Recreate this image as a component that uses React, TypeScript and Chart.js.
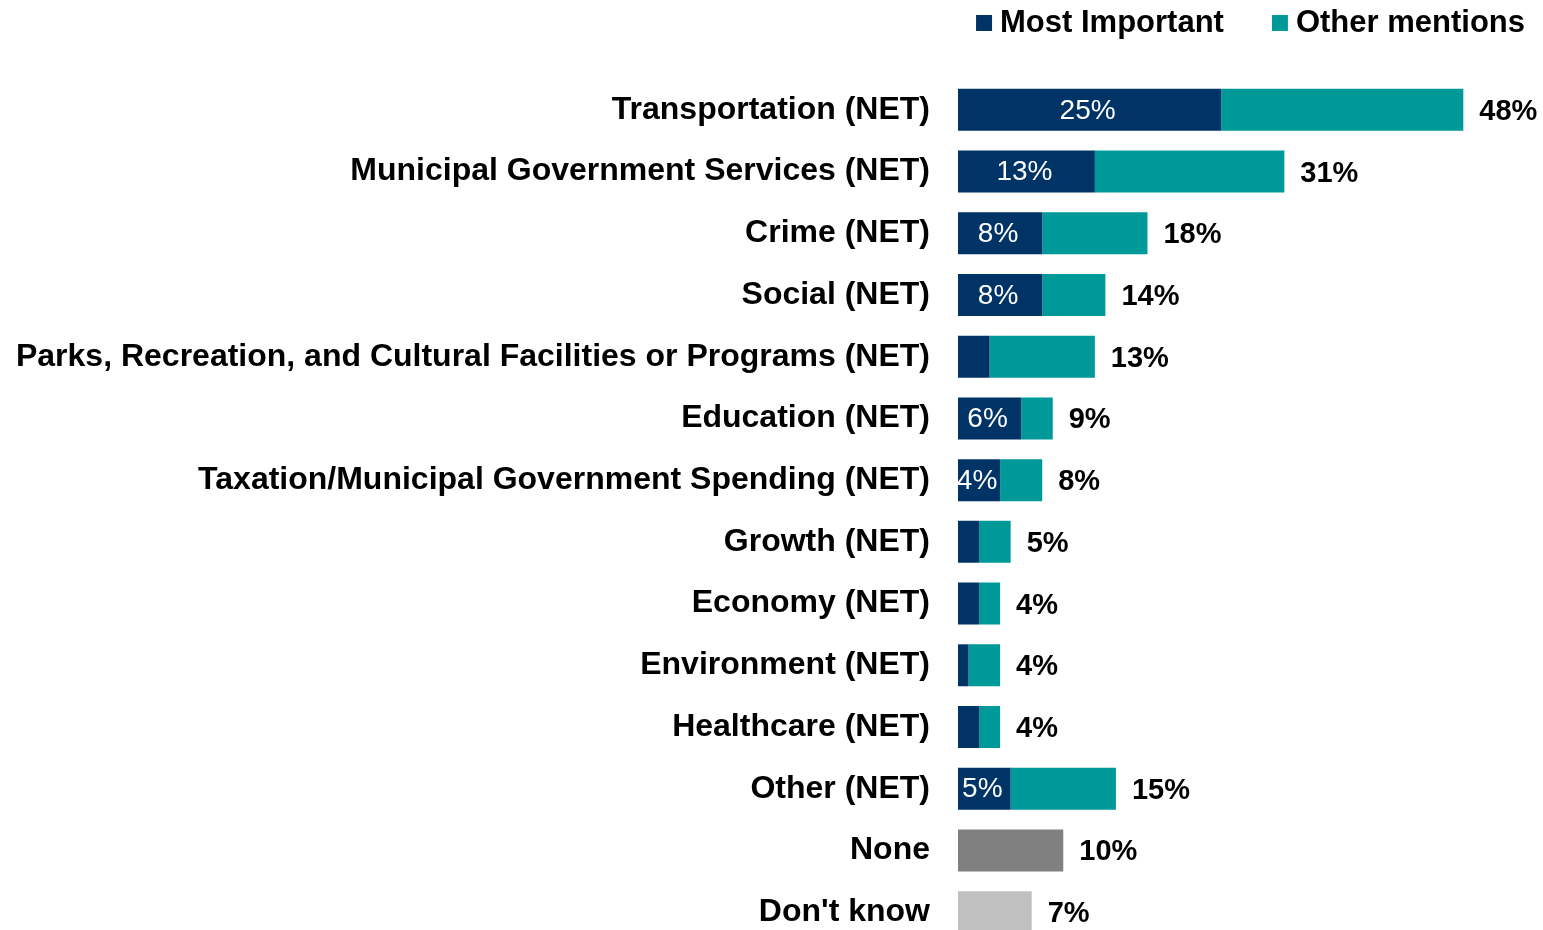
import React, { useEffect, useRef } from "react";
import { Chart, registerables } from "chart.js";

Chart.register(...registerables);

const categories = [
  "Transportation (NET)",
  "Municipal Government Services (NET)",
  "Crime (NET)",
  "Social (NET)",
  "Parks, Recreation, and Cultural Facilities or Programs (NET)",
  "Education (NET)",
  "Taxation/Municipal Government Spending (NET)",
  "Growth (NET)",
  "Economy (NET)",
  "Environment (NET)",
  "Healthcare (NET)",
  "Other (NET)",
  "None",
  "Don't know",
];

const mostImportant = [25, 13, 8, 8, 3, 6, 4, 2, 2, 1, 2, 5, 0, 0];
const otherMentions = [23, 18, 10, 6, 10, 3, 4, 3, 2, 3, 2, 10, 0, 0];
const noneDontKnow = [0, 0, 0, 0, 0, 0, 0, 0, 0, 0, 0, 0, 10, 7];
const totals = [48, 31, 18, 14, 13, 9, 8, 5, 4, 4, 4, 15, 10, 7];

const NAVY = "#003366";
const TEAL = "#009999";
const GRAY_DARK = "#808080";
const GRAY_LIGHT = "#C0C0C0";
const FONT = "'Liberation Sans', Arial, sans-serif";

export default function App() {
  const ref = useRef<HTMLCanvasElement | null>(null);

  useEffect(() => {
    if (!ref.current) return;

    const labelsPlugin = {
      id: "valueLabels",
      afterDatasetsDraw(chart: any) {
        const ctx = chart.ctx;
        const x = chart.scales.x;
        const y = chart.scales.y;
        ctx.save();
        ctx.textBaseline = "middle";
        ctx.fillStyle = "#FFFFFF";
        ctx.font = `28px ${FONT}`;
        ctx.textAlign = "center";
        mostImportant.forEach((v, i) => {
          if (v >= 4) {
            const cx = (x.getPixelForValue(0) + x.getPixelForValue(v)) / 2;
            ctx.fillText(`${v}%`, cx - 2, y.getPixelForValue(i) + 1);
          }
        });
        ctx.fillStyle = "#000000";
        ctx.font = `bold 29px ${FONT}`;
        ctx.textAlign = "left";
        totals.forEach((t, i) => {
          ctx.fillText(`${t}%`, x.getPixelForValue(t) + 16, y.getPixelForValue(i) + 2);
        });
        ctx.restore();
      },
      afterDraw(chart: any) {
        const ctx = chart.ctx;
        ctx.save();
        ctx.font = `bold 31px ${FONT}`;
        ctx.textBaseline = "middle";
        ctx.textAlign = "left";
        const items = [
          { text: chart.data.datasets[0].label, color: NAVY },
          { text: chart.data.datasets[1].label, color: TEAL },
        ];
        const box = 16;
        const gap = 8;
        const between = 48;
        let total = 0;
        items.forEach((it, idx) => {
          total += box + gap + ctx.measureText(it.text).width;
          if (idx < items.length - 1) total += between;
        });
        let cx = 1525 - total;
        const cy = 23;
        items.forEach((it) => {
          ctx.fillStyle = it.color;
          ctx.fillRect(cx, cy - box / 2, box, box);
          cx += box + gap;
          ctx.fillStyle = "#000000";
          ctx.fillText(it.text, cx, cy);
          cx += ctx.measureText(it.text).width + between;
        });
        ctx.restore();
      },
    };

    const chart = new Chart(ref.current, {
      type: "bar",
      data: {
        labels: categories,
        datasets: [
          {
            label: "Most Important",
            data: mostImportant,
            backgroundColor: NAVY,
            stack: "s",
          },
          {
            label: "Other mentions",
            data: otherMentions,
            backgroundColor: TEAL,
            stack: "s",
          },
          {
            label: "None / Don't know",
            data: noneDontKnow,
            backgroundColor: [
              GRAY_DARK, GRAY_DARK, GRAY_DARK, GRAY_DARK, GRAY_DARK, GRAY_DARK, GRAY_DARK,
              GRAY_DARK, GRAY_DARK, GRAY_DARK, GRAY_DARK, GRAY_DARK, GRAY_DARK, GRAY_LIGHT,
            ],
            stack: "s",
          },
        ],
      },
      options: {
        indexAxis: "y",
        animation: false,
        responsive: true,
        maintainAspectRatio: false,
        layout: { padding: { top: 79, right: 6, left: 0, bottom: 0 } },
        datasets: {
          bar: { barPercentage: 0.68, categoryPercentage: 1, borderWidth: 0 },
        },
        plugins: {
          legend: { display: false },
          tooltip: { enabled: false },
        },
        scales: {
          x: {
            stacked: true,
            min: 0,
            max: 55,
            display: false,
          },
          y: {
            stacked: true,
            grid: { display: false, drawTicks: false },
            border: { display: false },
            afterFit(scale: any) {
              scale.width = 958;
              scale.paddingTop = 0;
              scale.paddingBottom = 0;
            },
            ticks: {
              color: "#000000",
              padding: 28,
              font: { family: FONT, size: 32, weight: "bold" },
              autoSkip: false,
            },
          },
        },
      },
      plugins: [labelsPlugin],
    });

    return () => chart.destroy();
  }, []);

  return (
    <div
      style={{
        position: "fixed",
        left: 0,
        top: 0,
        width: "1543px",
        height: "943px",
        background: "#FFFFFF",
      }}
    >
      <canvas ref={ref} />
    </div>
  );
}
